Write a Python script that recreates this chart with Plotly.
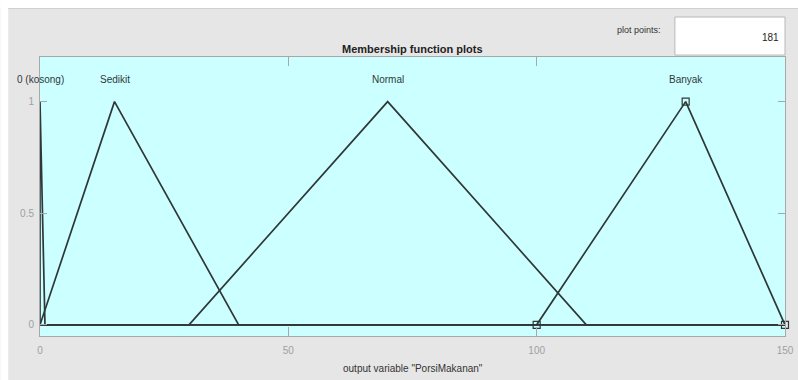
import plotly.graph_objects as go

# Output variable "PorsiMakanan": universe of discourse and triangular MFs
x_range = [0, 150]
mf_names = ["0 (kosong)", "Sedikit", "Normal", "Banyak"]
mf_params = [
    [0, 0, 1],
    [0, 15, 40],
    [30, 70, 110],
    [100, 130, 150],
]
selected_mf = "Banyak"
plot_points = 181

x_ticks = [0, 50, 100, 150]
y_ticks = [0, 0.5, 1]

W, H = 806, 380
L, R, T, B = 40, 15, 57, 44
pw, ph = W - L - R, H - T - B

def px(xp):
    return (xp - L) / pw

def py(yp):
    return (H - B - yp) / ph

LINE = "#2f3838"
FONT = "Liberation Sans Narrow, Liberation Sans, Arial, sans-serif"

fig = go.Figure()

for name, (a, b, c) in zip(mf_names, mf_params):
    xs = [x_range[0], a, b, c, x_range[1]]
    ys = [0, 0, 1, 0, 0]
    fig.add_trace(go.Scatter(
        x=xs, y=ys, mode="lines",
        line=dict(color=LINE, width=1.7),
        hoverinfo="skip", showlegend=False, cliponaxis=False,
    ))
    if name == selected_mf:
        fig.add_trace(go.Scatter(
            x=[a, b, c], y=[0, 1, 0], mode="markers",
            marker=dict(symbol="square-open", size=7, color=LINE,
                        line=dict(width=1.2, color=LINE)),
            hoverinfo="skip", showlegend=False, cliponaxis=False,
        ))
    fig.add_annotation(
        x=b, y=1.1, xref="x", yref="y", text=name, showarrow=False,
        font=dict(family=FONT, size=10, color="#2e3a3a"),
        xanchor="center", yanchor="middle",
    )

annotations_extra = [
    dict(x=0.5, y=py(49), text="<b>Membership function plots</b>",
         font=dict(family=FONT, size=11, color="#222"), xanchor="center"),
    dict(x=0.5, y=py(368), text='output variable "PorsiMakanan"',
         font=dict(family=FONT, size=10, color="#333"), xanchor="center"),
    dict(x=px(668), y=py(30), text="plot points:",
         font=dict(family=FONT, size=9, color="#333"), xanchor="right"),
    dict(x=px(787), y=py(37), text=str(plot_points),
         font=dict(family=FONT, size=10, color="#222"), xanchor="right"),
]
for ann in annotations_extra:
    fig.add_annotation(xref="paper", yref="paper", showarrow=False,
                       yanchor="middle", **ann)

shapes = [
    # white window strip along the top and left edges
    dict(type="rect", xref="paper", yref="paper",
         x0=px(0), x1=px(W), y0=py(8), y1=py(0),
         fillcolor="white", line=dict(width=0), layer="below"),
    dict(type="rect", xref="paper", yref="paper",
         x0=px(0), x1=px(8), y0=py(H), y1=py(0),
         fillcolor="white", line=dict(width=0), layer="below"),
    dict(type="line", xref="paper", yref="paper",
         x0=px(8), x1=px(W), y0=py(8.5), y1=py(8.5),
         line=dict(color="#d0d0d0", width=1)),
    # "plot points" edit box
    dict(type="rect", xref="paper", yref="paper",
         x0=px(680), x1=px(791), y0=py(55), y1=py(17),
         fillcolor="white", line=dict(color="#b8b8b8", width=1)),
]

fig.update_layout(
    width=W, height=H,
    margin=dict(l=L, r=R, t=T, b=B, pad=0),
    paper_bgcolor="#e6e6e6",
    plot_bgcolor="#ccffff",
    shapes=shapes,
    showlegend=False,
    xaxis=dict(
        range=x_range, tickvals=x_ticks, ticktext=[str(v) for v in x_ticks],
        ticks="inside", ticklen=9, tickcolor="#a8a8a8", tickwidth=1,
        showline=True, linecolor="#a8a8a8", linewidth=1, mirror="ticks",
        showgrid=False, zeroline=False, ticklabelstandoff=5,
        tickfont=dict(family=FONT, size=10, color="#a0a0a0"),
    ),
    yaxis=dict(
        range=[-0.05, 1.2], tickvals=y_ticks, ticktext=["0", "0.5", "1"],
        ticks="inside", ticklen=7, tickcolor="#a8a8a8", tickwidth=1,
        showline=True, linecolor="#a8a8a8", linewidth=1, mirror="ticks",
        showgrid=False, zeroline=False, ticklabelstandoff=3,
        tickfont=dict(family=FONT, size=10, color="#a0a0a0"),
    ),
)

fig.write_html(
    "out.html",
    config={"responsive": False, "displayModeBar": False},
    post_script="document.body.style.margin='0';"
                "document.documentElement.style.overflow='hidden';"
                "document.body.style.overflow='hidden';",
)
